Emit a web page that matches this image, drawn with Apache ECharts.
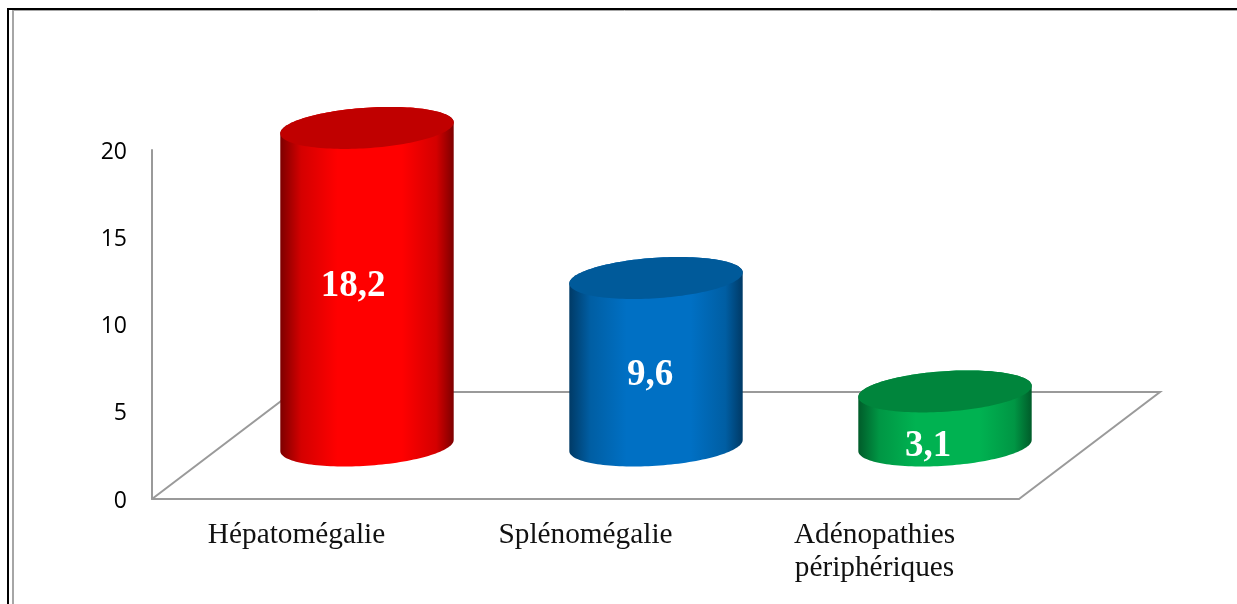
<!DOCTYPE html>
<html lang="fr">
<head>
<meta charset="utf-8">
<title>Manifestations cliniques</title>
<script src="https://cdn.jsdelivr.net/npm/echarts@6/dist/echarts.min.js"></script>
<style>
  html, body { margin: 0; padding: 0; background: #fff; }
  #chart { width: 1237px; height: 604px; }
</style>
</head>
<body>
<div id="chart"></div>
<script>
// Chart data
const categories = ['Hépatomégalie', 'Splénomégalie', 'Adénopathies\npériphériques'];
const values = [18.2, 9.6, 3.1];
const valueLabels = ['18,2', '9,6', '3,1'];
const yTicks = { min: 0, max: 20, interval: 5 };

// Cylinder colours: side edge, side shoulder, side centre, top cap
const sideEdge = ['#7d0000', '#003a66', '#005c2a'];
const sideShoulder = ['#d40000', '#005ea3', '#009644'];
const sideMid = ['#ff0000', '#0070c4', '#00b251'];
const capFill = ['#c00000', '#005a9a', '#00853c'];

// Oblique projection of the floor and the bars standing in the middle of it
const FLOOR_DX = 141, FLOOR_DY = -107;
const BAR_DX = FLOOR_DX / 2, BAR_DY = FLOOR_DY / 2;
const BAR_WIDTH_RATIO = 0.6;
const CAP_HEIGHT = 21;    // half height of an elliptical cap
const CAP_TILT = -0.064;  // slope of the cap's long axis

// Hand placement of the value labels relative to each bar's centre
const labelNudge = [[-14, 0], [-6, 14], [-17, 28]];

function ellipsePoint(cx, cy, rx, h, t) {
  const x = rx * Math.cos(t);
  return [cx + x, cy + CAP_TILT * x + h * Math.sin(t)];
}

function renderFloor(params, api) {
  const a = api.coord([0, 0]);
  const cs = params.coordSys;
  const l = cs.x, r = cs.x + cs.width, y = a[1];
  return {
    type: 'polyline',
    shape: { points: [[l, y], [l + FLOOR_DX, y + FLOOR_DY], [r + FLOOR_DX, y + FLOOR_DY], [r, y]] },
    style: { stroke: '#9a9a9a', lineWidth: 2, fill: null },
    silent: true
  };
}

function renderCylinder(params, api) {
  const i = api.value(0);
  const base = api.coord([i, 0]);
  const top = api.coord([i, api.value(1)]);
  const rx = api.size([1, 0])[0] * BAR_WIDTH_RATIO / 2;
  const cx = base[0] + BAR_DX;
  const yBase = base[1] + BAR_DY;
  const yTop = top[1] + BAR_DY;
  const h = Math.sqrt(CAP_HEIGHT * CAP_HEIGHT - Math.pow(CAP_TILT * rx, 2));
  const N = 72;

  // Side wall: lower half of the base ellipse, closed up over the top ellipse
  const side = [];
  for (let k = 0; k <= N; k++) side.push(ellipsePoint(cx, yBase, rx, h, k / N * Math.PI));
  for (let k = N; k >= 0; k--) side.push(ellipsePoint(cx, yTop, rx, h, -k / N * Math.PI));
  const cap = [];
  for (let k = 0; k < N * 2; k++) cap.push(ellipsePoint(cx, yTop, rx, h, k / N * Math.PI));

  const nudge = labelNudge[i];
  return {
    type: 'group',
    children: [
      {
        type: 'polygon',
        shape: { points: side },
        style: {
          fill: {
            type: 'linear', x: 0, y: 0, x2: 1, y2: 0,
            colorStops: [
              { offset: 0, color: sideEdge[i] },
              { offset: 0.12, color: sideShoulder[i] },
              { offset: 0.33, color: sideMid[i] },
              { offset: 0.7, color: sideMid[i] },
              { offset: 0.9, color: sideShoulder[i] },
              { offset: 1, color: sideEdge[i] }
            ]
          }
        }
      },
      {
        type: 'polygon',
        shape: { points: cap },
        style: { fill: capFill[i] }
      },
      {
        type: 'text',
        style: {
          x: cx + nudge[0],
          y: (yBase + yTop) / 2 + nudge[1],
          text: valueLabels[i],
          fill: '#ffffff',
          font: 'bold 37px "Liberation Serif", serif',
          align: 'center',
          verticalAlign: 'middle'
        }
      }
    ]
  };
}

const chart = echarts.init(document.getElementById('chart'), null, { renderer: 'canvas' });
chart.setOption({
  animation: false,
  backgroundColor: '#ffffff',
  grid: { left: 152, top: 150, width: 867, height: 349, containLabel: false },
  xAxis: {
    type: 'category',
    data: categories,
    axisTick: { show: false },
    axisLine: { lineStyle: { color: '#9a9a9a', width: 2 } },
    axisLabel: {
      color: '#111111',
      fontFamily: '"Liberation Serif", serif',
      fontSize: 29.3,
      lineHeight: 33,
      margin: 20,
      interval: 0
    }
  },
  yAxis: {
    type: 'value',
    min: yTicks.min,
    max: yTicks.max,
    interval: yTicks.interval,
    splitLine: { show: false },
    axisTick: { show: false },
    axisLine: { show: true, lineStyle: { color: '#9a9a9a', width: 2 } },
    axisLabel: {
      color: '#000000',
      fontFamily: '"Open Sans", sans-serif',
      fontSize: 23,
      margin: 25,
      verticalAlign: 'top',
      lineHeight: 4
    }
  },
  series: [
    {
      type: 'custom',
      name: 'Plancher',
      coordinateSystem: 'cartesian2d',
      renderItem: renderFloor,
      data: [[0, 0]],
      clip: false,
      silent: true,
      z: 1
    },
    {
      type: 'custom',
      name: 'Fréquence',
      coordinateSystem: 'cartesian2d',
      renderItem: renderCylinder,
      data: values.map((v, i) => [i, v]),
      encode: { x: 0, y: 1 },
      clip: false,
      silent: true,
      z: 2
    }
  ],
  // Double page border, open at the right and bottom
  graphic: [
    { type: 'line', silent: true, shape: { x1: 12, y1: 10.5, x2: 1237, y2: 10.5 }, style: { stroke: '#a6a6a6', lineWidth: 1 } },
    { type: 'line', silent: true, shape: { x1: 13, y1: 10, x2: 13, y2: 604 }, style: { stroke: '#a6a6a6', lineWidth: 2 } },
    { type: 'line', silent: true, shape: { x1: 7, y1: 9, x2: 1237, y2: 9 }, style: { stroke: '#000000', lineWidth: 2 } },
    { type: 'line', silent: true, shape: { x1: 8, y1: 8, x2: 8, y2: 604 }, style: { stroke: '#000000', lineWidth: 2 } }
  ]
});
</script>
</body>
</html>
